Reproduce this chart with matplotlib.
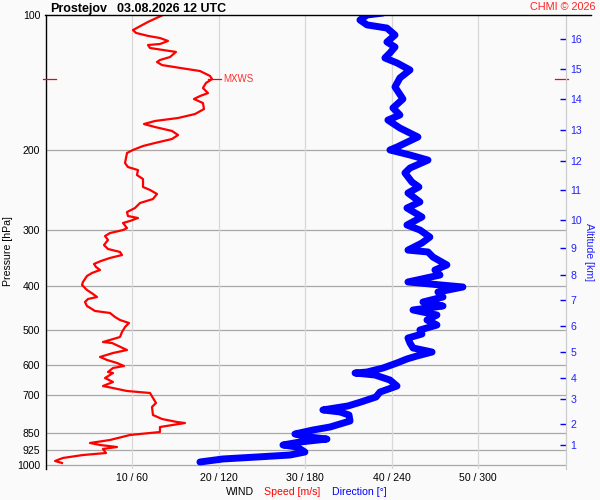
import matplotlib
matplotlib.use('Agg')
import matplotlib.pyplot as plt
from matplotlib.ticker import NullLocator, FixedLocator
from matplotlib.lines import Line2D
import matplotlib.transforms as mtrans

plt.rcParams['font.family'] = ['Liberation Sans', 'DejaVu Sans']

# ---- data ----
speed_p = [100, 103.6, 108.0, 109.6, 111.3, 112.5, 114.2, 116.0, 116.6, 118.4, 119.6, 120.8,
           124.0, 125.9, 127.2, 129.2, 131.1, 133.2, 136.6, 138.8, 141.6, 145.3, 149.1, 151.4,
           153.7, 156.9, 161.8, 166.0, 169.4, 172.0, 174.7, 177.4, 181.0, 184.8, 188.6, 192.5,
           195.5, 199.5, 202.6, 213.3, 217.7, 221.1, 226.8, 231.5, 241.1, 244.8, 249.9, 256.4,
           261.7, 268.5, 274.1, 279.7, 282.6, 286.9, 289.9, 297.5, 300.5, 305.2, 309.9, 316.2,
           324.5, 331.1, 336.2, 341.5, 346.7, 352.1, 357.5, 363.1, 368.7, 374.4, 380.2, 392.0,
           398.1, 408.4, 416.9, 423.3, 427.7, 434.3, 443.2, 454.7, 459.4, 468.9, 476.2, 483.6,
           493.6, 506.4, 519.5, 533.0, 535.7, 555.2, 563.8, 575.4, 584.3, 593.3, 602.6, 608.8,
           621.4, 624.6, 640.8, 654.0, 667.5, 674.5, 684.8, 691.8, 709.7, 728.1, 743.1, 774.3,
           790.3, 802.5, 806.7, 823.4, 844.7, 857.7, 879.9, 893.5, 902.7, 912.0, 921.4, 940.5,
           950.2, 964.7, 979.7, 989.8]
speed_ms = [13.56, 11.83, 10.09, 10.44, 11.83, 13.21, 14.14, 13.21, 11.83, 12.06, 13.56, 15.06,
            14.37, 13.21, 12.87, 13.45, 15.53, 17.84, 19.0, 19.23, 18.53, 18.18, 18.76, 17.84,
            17.14, 18.18, 18.30, 17.26, 15.30, 12.64, 11.36, 12.64, 14.60, 15.30, 14.60, 12.64,
            11.25, 10.09, 9.40, 9.17, 9.51, 10.67, 10.55, 11.25, 11.25, 12.06, 12.87, 12.40,
            10.90, 10.32, 9.40, 9.51, 10.67, 9.74, 8.94, 9.40, 8.94, 7.43, 6.86, 7.20,
            6.74, 7.20, 8.59, 8.82, 7.43, 6.39, 5.58, 5.82, 6.28, 5.35, 4.77, 4.31,
            4.20, 4.77, 5.47, 5.93, 4.89, 4.54, 4.77, 5.70, 7.43, 8.01, 8.59, 9.63,
            9.17, 8.82, 8.59, 6.62, 7.67, 9.40, 7.78, 6.28, 7.09, 8.24, 9.05, 7.78,
            7.20, 7.78, 6.86, 7.78, 6.62, 7.78, 9.40, 12.06, 12.40, 12.75, 12.29, 12.40,
            13.45, 15.18, 16.10, 13.21, 13.21, 9.74, 7.43, 5.12, 6.28, 8.24, 6.62, 6.97,
            4.31, 1.99, 1.08, 1.88]

dir_p = [99.0, 100, 102.6, 105.2, 106.9, 110.8, 114.8, 117.8, 121.4, 124.6, 127.8, 132.5,
         138.0, 144.5, 153.7, 160.9, 166.8, 171.2, 178.3, 186.7, 196.5, 199.5, 204.7, 210.1,
         218.8, 224.4, 235.0, 241.1, 248.6, 260.3, 268.5, 281.1, 292.9, 300.5, 311.5, 321.1,
         333.0, 336.2, 345.0, 359.3, 368.7, 378.3, 392.0, 402.2, 412.7, 423.3, 434.3, 443.2,
         452.4, 464.2, 476.2, 488.6, 501.2, 511.6, 522.2, 535.7, 549.5, 561.0, 572.4, 581.3,
         593.3, 608.8, 621.4, 624.6, 631.0, 647.4, 667.5, 688.4, 706.1, 724.4, 739.3, 754.5,
         762.3, 774.3, 798.4, 823.4, 836.1, 853.4, 866.8, 875.7, 889.0, 902.7, 912.0, 935.7,
         950.2, 959.9, 969.7, 984.8]
dir_deg = [234.0, 222.9, 218.0, 222.9, 236.7, 242.3, 236.7, 242.3, 238.8, 235.3, 243.7, 252.7,
           245.7, 242.3, 247.8, 240.9, 245.7, 237.4, 245.7, 258.2, 243.7, 238.8, 252.7, 265.2,
           252.7, 249.2, 254.0, 258.9, 251.3, 259.6, 250.6, 261.0, 250.6, 259.6, 266.5, 261.0,
           251.3, 265.2, 268.6, 278.3, 270.0, 273.5, 251.3, 289.4, 272.1, 275.6, 261.7, 275.6,
           254.8, 271.4, 264.5, 271.4, 259.6, 261.0, 251.3, 252.7, 254.8, 268.0, 257.6, 250.6,
           243.7, 234.0, 222.9, 214.6, 228.4, 238.8, 243.7, 231.9, 229.1, 218.7, 209.7, 192.3,
           204.1, 210.4, 211.1, 197.2, 185.4, 172.9, 183.3, 195.1, 176.4, 164.6, 174.3, 179.8,
           169.4, 146.5, 122.9, 107.0]

pressure_ticks = [100, 200, 300, 400, 500, 600, 700, 850, 925, 1000]
speed_ticks = [10, 20, 30, 40, 50]
dir_ticks = [60, 120, 180, 240, 300]
alt_km = [1, 2, 3, 4, 5, 6, 7, 8, 9, 10, 11, 12, 13, 14, 15, 16]
alt_p = [902.6, 810.6, 713.6, 640.8, 561.0, 491.0, 430.0, 378.3, 329.5, 285.5,
         244.8, 211.1, 180.1, 153.7, 131.8, 113.1]
mxws_p = 138.8
mxws_speed = 19.23

# ---- figure ----
W, H = 600, 500
BG = '#fafafa'
fig = plt.figure(figsize=(6, 5), dpi=100, facecolor=BG)

def fx(px):
    return px / W

def fy(py):
    return 1 - py / H

ax = fig.add_axes([fx(45.7), fy(469), 520 / W, 454 / H])
ax.set_facecolor(BG)
ax.set_yscale('log')
ax.set_ylim(1020.7, 100)
ax.set_xlim(0, 60.12)

for p in pressure_ticks[1:]:
    ax.axhline(p, color='#a8a8a8', lw=0.9, zorder=1)
for s in speed_ticks:
    ax.axvline(s, color='#d8d8d8', lw=0.9, zorder=1)

ax.set_yticks(pressure_ticks)
ax.set_yticklabels([str(p) for p in pressure_ticks])
ax.yaxis.set_minor_locator(NullLocator())
ax.tick_params(axis='y', length=0, pad=4, labelsize=7.6)
ax.set_xticks(speed_ticks)
ax.set_xticklabels([f"{s} / {d}" for s, d in zip(speed_ticks, dir_ticks)])
ax.tick_params(axis='x', length=0, pad=3, labelsize=7.6)

ax.spines['left'].set_color('black')
ax.spines['left'].set_linewidth(1.0)
ax.spines['top'].set_visible(False)
ax.spines['bottom'].set_visible(False)
ax.spines['right'].set_visible(False)

ax.plot(speed_ms, speed_p, color='#ff0000', lw=1.6, zorder=3,
        solid_joinstyle='round')
ax.plot([d / 6.0 for d in dir_deg], dir_p, color='#0000ff', lw=5.0, zorder=3,
        solid_capstyle='round', solid_joinstyle='round')

# MXWS markers
bt = mtrans.blended_transform_factory(ax.transAxes, ax.transData)
ax.plot([-3 / 520, 10 / 520], [mxws_p, mxws_p], color='#ff0000', lw=0.9,
        transform=bt, clip_on=False, zorder=4)
ax.plot([(555 - 45.7) / 520, (568 - 45.7) / 520], [mxws_p, mxws_p], color='#ff0000',
        lw=0.9, transform=bt, clip_on=False, zorder=4)
ax.plot([mxws_speed - 0.5, mxws_speed + 1.0], [mxws_p, mxws_p], color='#ff0000', lw=0.9,
        zorder=4)
ax.text(mxws_speed + 1.3, mxws_p, 'MXWS', color='#ff3030', fontsize=7, va='center',
        ha='left')

# right altitude axis
ax_r = ax.twinx()
ax_r.set_yscale('log')
ax_r.set_ylim(1020.7, 100)
ax_r.yaxis.set_major_locator(FixedLocator(alt_p))
ax_r.set_yticklabels([str(k) for k in alt_km])
ax_r.yaxis.set_minor_locator(NullLocator())
ax_r.tick_params(axis='y', direction='in', length=4.3, width=1.0, color='#0000ff',
                 labelcolor='#2020ff', pad=3.5, labelsize=7.6)
for side in ['left', 'top', 'bottom']:
    ax_r.spines[side].set_visible(False)
ax_r.spines['right'].set_color('#cccccc')
ax_r.spines['right'].set_linewidth(0.9)

# top black line
fig.add_artist(Line2D([fx(45.2), fx(591)], [fy(15), fy(15)], color='black', lw=1.0))

# texts
fig.text(fx(50), fy(12), 'Prostejov', fontsize=9, fontweight='bold', ha='left',
         va='baseline')
fig.text(fx(117), fy(12), '03.08.2026 12 UTC', fontsize=9, fontweight='bold',
         ha='left', va='baseline')
fig.text(fx(596), fy(10.5), 'CHMI \u00a9 2026', fontsize=7.8, color='#ff2020',
         ha='right', va='baseline')
fig.text(fx(226), fy(495), 'WIND', fontsize=7.6, color='black', ha='left', va='baseline')
fig.text(fx(264), fy(495), 'Speed [m/s]', fontsize=7.6, color='#ff0000', ha='left',
         va='baseline')
fig.text(fx(332), fy(495), 'Direction [\u00b0]', fontsize=7.6, color='#0000ff', ha='left',
         va='baseline')
fig.text(fx(8), fy(251), 'Pressure [hPa]', fontsize=7.6, rotation=90, ha='center',
         va='center')
fig.text(fx(589), fy(252), 'Altitude [km]', fontsize=7.6, rotation=-90, color='#2020ff',
         ha='center', va='center')

fig.savefig('out.png', dpi=100, facecolor=BG)
